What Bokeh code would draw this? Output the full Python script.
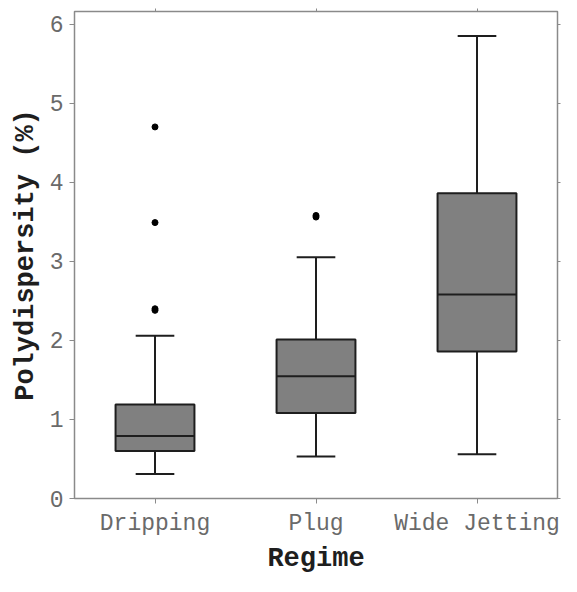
from bokeh.plotting import figure
from bokeh.models import (FactorRange, Range1d, CategoricalAxis, LinearAxis,
                          ColumnDataSource, FixedTicker)
from bokeh.transform import dodge
from bokeh.embed import file_html
from bokeh.resources import INLINE

# ---- data ----
regimes = ["Dripping", "Plug", "Wide Jetting"]
lower_whisker = [0.31, 0.53, 0.56]
q1 = [0.60, 1.08, 1.86]
median = [0.79, 1.545, 2.58]
q3 = [1.19, 2.01, 3.86]
upper_whisker = [2.06, 3.05, 5.85]
outlier_regime = ["Dripping", "Dripping", "Dripping", "Dripping", "Plug", "Plug"]
outlier_value = [4.70, 3.49, 2.40, 2.38, 3.58, 3.56]
y_ticks = [0, 1, 2, 3, 4, 5, 6]

FONT = "Liberation Mono"
AXIS_GREY = "#8a8a8a"
LABEL_GREY = "#6a6a6a"
BOX_FILL = "#808080"
DARK = "#1e1e1e"

src = ColumnDataSource(dict(regime=regimes, lo=lower_whisker, q1=q1,
                            med=median, q3=q3, hi=upper_whisker))

p = figure(x_range=FactorRange(*regimes, range_padding=0),
           y_range=Range1d(0, 6.16),
           width=561, height=576, output_backend="svg",
           toolbar_location=None, x_axis_label="Regime",
           y_axis_label="Polydispersity (%)",
           min_border_left=74, min_border_right=4, min_border_top=11,
           min_border_bottom=4)

p.xgrid.visible = False
p.ygrid.visible = False
p.outline_line_color = AXIS_GREY
p.outline_line_width = 1.5
p.background_fill_color = "white"
p.border_fill_color = "white"

# whiskers
p.segment(x0="regime", y0="q3", x1="regime", y1="hi", source=src,
          line_color=DARK, line_width=2)
p.segment(x0="regime", y0="lo", x1="regime", y1="q1", source=src,
          line_color=DARK, line_width=2)
# caps
p.segment(x0=dodge("regime", -0.12, range=p.x_range), y0="hi",
          x1=dodge("regime", 0.12, range=p.x_range), y1="hi", source=src,
          line_color=DARK, line_width=2)
p.segment(x0=dodge("regime", -0.12, range=p.x_range), y0="lo",
          x1=dodge("regime", 0.12, range=p.x_range), y1="lo", source=src,
          line_color=DARK, line_width=2)
# boxes
p.vbar(x="regime", width=0.49, bottom="q1", top="q3", source=src,
       fill_color=BOX_FILL, line_color=DARK, line_width=2)
# medians
p.segment(x0=dodge("regime", -0.245, range=p.x_range), y0="med",
          x1=dodge("regime", 0.245, range=p.x_range), y1="med", source=src,
          line_color=DARK, line_width=2)
# outliers
p.scatter(x=outlier_regime, y=outlier_value, size=6, color="black")

# left axis
ya = p.yaxis[0]
ya.ticker = FixedTicker(ticks=y_ticks)
ya.minor_tick_line_color = None
ya.major_tick_in = 0
ya.major_tick_out = 5
ya.axis_line_color = AXIS_GREY
ya.major_tick_line_color = AXIS_GREY
ya.major_label_text_font = FONT
ya.major_label_text_font_size = "23px"
ya.major_label_text_color = LABEL_GREY
ya.major_label_standoff = 6
ya.axis_label_text_font = FONT
ya.axis_label_text_font_size = "27px"
ya.axis_label_text_font_style = "bold"
ya.axis_label_text_color = DARK
ya.axis_label_standoff = 6

# bottom axis
xa = p.xaxis[0]
xa.major_tick_in = 0
xa.major_tick_out = 5
xa.axis_line_color = AXIS_GREY
xa.major_tick_line_color = AXIS_GREY
xa.major_label_text_font = FONT
xa.major_label_text_font_size = "23px"
xa.major_label_text_color = LABEL_GREY
xa.major_label_standoff = 7
xa.axis_label_text_font = FONT
xa.axis_label_text_font_size = "27px"
xa.axis_label_text_font_style = "bold"
xa.axis_label_text_color = DARK
xa.axis_label_standoff = 4

# right and top tick-only axes (labels not drawn)
ra = LinearAxis(ticker=FixedTicker(ticks=y_ticks), major_label_text_font_size="1px",
                major_label_text_color=None, major_label_standoff=0,
                major_tick_in=0, major_tick_out=3,
                minor_tick_line_color=None, axis_line_color=AXIS_GREY,
                major_tick_line_color=AXIS_GREY)
p.add_layout(ra, "right")
ta = CategoricalAxis(major_label_text_font_size="1px", major_label_text_color=None,
                     major_label_standoff=0, major_tick_in=0, major_tick_out=3,
                     axis_line_color=AXIS_GREY, major_tick_line_color=AXIS_GREY)
p.add_layout(ta, "above")

open("out.html", "w").write(file_html(p, INLINE))
